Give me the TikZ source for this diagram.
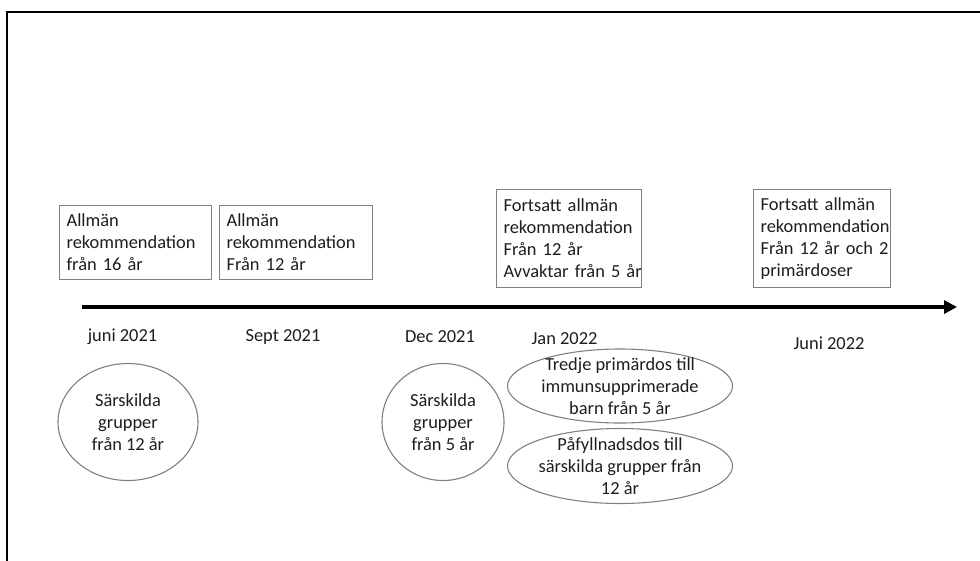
\documentclass[tikz,border=0pt]{standalone}
\usepackage{fontspec}
\setmainfont{Carlito}
\usetikzlibrary{shapes.geometric,arrows.meta}
\definecolor{txtcol}{HTML}{1E1E1E}
\definecolor{boxcol}{HTML}{808080}
\begin{document}
\begin{tikzpicture}[x=1pt,y=-1pt,
  txt/.style={font=\fontsize{18.4}{22}\selectfont, text=txtcol},
  recbox/.style={draw=boxcol, line width=1.2pt, rectangle, inner xsep=7pt, inner ysep=0pt,
    anchor=north west, align=left, txt},
  ell/.style={draw=boxcol, line width=1.1pt, ellipse, inner sep=0pt},
  elltxt/.style={txt, align=center, inner sep=0pt},
  datelbl/.style={txt, anchor=base, inner sep=0pt}
]
\useasboundingbox (0,0) rectangle (980,560);
\fill[white] (0,0) rectangle (980,560);
% frame
\coordinate (fa) at (7,562);
\coordinate (fb) at (7,12);
\coordinate (fc) at (982,12);
\draw[line width=2.2pt, black] (fa) -- (fb) -- (fc);

% timeline
\coordinate (t0) at (82,307);
\coordinate (t1) at (957,307);
\draw[line width=4.5pt, black, -{Triangle[length=13pt,width=13pt]}] (t0) -- (t1);

% boxes
\node[recbox, minimum height=74pt, text width=138pt] (b1) at (59,205)
  {\mbox{Allmän}\\\mbox{rekommendation}\\\mbox{från 16 år}};
\node[recbox, minimum height=74pt, text width=139pt] (b2) at (219,205)
  {\mbox{Allmän}\\\mbox{rekommendation}\\\mbox{Från 12 år}};
\node[recbox, minimum height=98pt, text width=131pt] (b3) at (496,189)
  {\mbox{Fortsatt allmän}\\\mbox{rekommendation}\\\mbox{Från 12 år}\\\mbox{Avvaktar från 5 år}};
\node[recbox, minimum height=98pt, text width=123pt] (b4) at (753,189)
  {\mbox{Fortsatt allmän}\\\mbox{rekommendation}\\\mbox{Från 12 år och 2}\\\mbox{primärdoser}};

% dates
\node[datelbl] (d1) at (122.5,341) {juni 2021};
\node[datelbl] (d2) at (283,341) {Sept 2021};
\node[datelbl] (d3) at (440,342) {Dec 2021};
\node[datelbl] (d4) at (564.5,344) {Jan 2022};
\node[datelbl] (d5) at (829,349) {Juni 2022};

% ellipses
\node[ell, minimum width=140pt, minimum height=117pt] (e1) at (128,422) {};
\node[elltxt] (e1t) at (e1.center) {Särskilda\\grupper\\från 12 år};
\node[ell, minimum width=122pt, minimum height=117pt] (e2) at (443,422) {};
\node[elltxt] (e2t) at (e2.center) {Särskilda\\grupper\\från 5 år};
\node[ell, minimum width=225pt, minimum height=74pt] (e3) at (620,386) {};
\node[elltxt] (e3t) at (e3.center) {Tredje primärdos till\\immunsupprimerade\\barn från 5 år};
\node[ell, minimum width=225pt, minimum height=75pt] (e4) at (620,466) {};
\node[elltxt] (e4t) at (e4.center) {Påfyllnadsdos till\\särskilda grupper från\\12 år};
\end{tikzpicture}
\end{document}
